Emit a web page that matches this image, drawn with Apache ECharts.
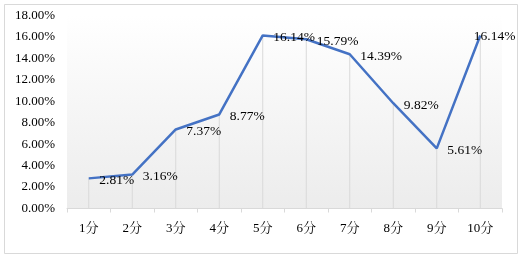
<!DOCTYPE html>
<html><head><meta charset="utf-8">
<script src="https://cdn.jsdelivr.net/npm/echarts@6/dist/echarts.min.js"></script>
<style>html,body{margin:0;padding:0;background:#fff;}#c{width:519px;height:254px;}</style>
</head><body><div id="c"></div>
<script>
const categories = ['1分','2分','3分','4分','5分','6分','7分','8分','9分','10分'];
const values = [2.81, 3.16, 7.37, 8.77, 16.14, 15.79, 14.39, 9.82, 5.61, 16.14];
const yMin = 0, yMax = 18, yStep = 2;

const chart = echarts.init(document.getElementById('c'), null, {renderer:'canvas'});
const font = '"Liberation Serif", "Times New Roman", "Noto Serif CJK SC", serif';
const lineData = values.map((v, i) => i === values.length - 1
  ? {value: v, label: {distance: -7, offset: [0, 1]}}
  : v);
chart.setOption({
  animation: false,
  backgroundColor: '#fff',
  textStyle: {fontFamily: font},
  graphic: [{
    type: 'rect', left: 2, top: 2, z: -10,
    shape: {width: 513, height: 249},
    style: {fill: 'none', stroke: '#d9d9d9', lineWidth: 1}
  }],
  grid: {
    left: 67, right: 17, top: 15.5, bottom: 45.5, show: true, borderWidth: 0,
    backgroundColor: new echarts.graphic.LinearGradient(0, 0, 0, 1, [
      {offset: 0, color: '#ffffff'}, {offset: 1, color: '#ececec'}
    ])
  },
  xAxis: {
    type: 'category', data: categories, boundaryGap: true,
    axisLine: {lineStyle: {color: '#d9d9d9', width: 1}},
    axisTick: {show: true, length: 4, lineStyle: {color: '#d9d9d9'}},
    axisLabel: {color: '#000', fontSize: 13, margin: 14, fontFamily: font}
  },
  yAxis: {
    type: 'value', min: yMin, max: yMax, interval: yStep,
    axisLine: {show: false}, axisTick: {show: false},
    splitLine: {show: false},
    axisLabel: {color: '#000', fontSize: 13, margin: 12, fontFamily: font,
      formatter: v => v.toFixed(2) + '%'}
  },
  series: [{
    type: 'bar', data: values, barWidth: 1, silent: true,
    itemStyle: {color: '#d9d9d9'}, z: 1
  }, {
    type: 'line', data: lineData, z: 3,
    symbol: 'circle', symbolSize: 1, showSymbol: true,
    itemStyle: {color: 'rgba(0,0,0,0)'},
    lineStyle: {color: '#4472C4', width: 2.5},
    label: {show: true, position: 'right', distance: 10, color: '#000',
      fontSize: 13.5, fontFamily: font, offset: [0, 2],
      formatter: p => p.value.toFixed(2) + '%'}
  }]
});
</script></body></html>
